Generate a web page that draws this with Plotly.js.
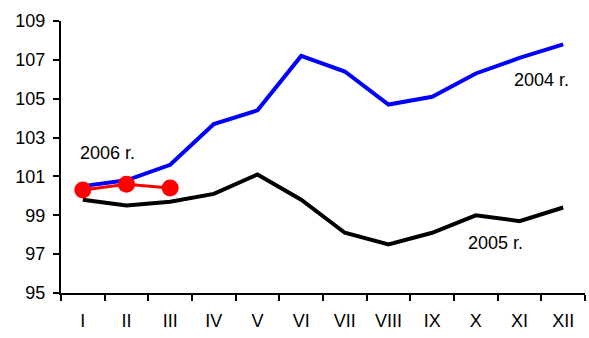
<!DOCTYPE html>
<html>
<head>
<meta charset="utf-8">
<script src="https://cdn.plot.ly/plotly-3.0.1.min.js"></script>
<style>html,body{margin:0;padding:0;background:#fff;}#chart{width:589px;height:338px;}</style>
</head>
<body>
<div id="chart"></div>
<script>
var months = ["I","II","III","IV","V","VI","VII","VIII","IX","X","XI","XII"];
var y2004 = [100.5, 100.8, 101.6, 103.7, 104.4, 107.2, 106.4, 104.7, 105.1, 106.3, 107.1, 107.8];
var y2005 = [99.8, 99.5, 99.7, 100.1, 101.1, 99.8, 98.1, 97.5, 98.1, 99.0, 98.7, 99.4];
var months2006 = ["I","II","III"];
var y2006 = [100.3, 100.6, 100.4];
var seriesNames = ["2004 r.", "2005 r.", "2006 r."];
var yTicks = [95, 97, 99, 101, 103, 105, 107, 109];

var font = {family: "Liberation Sans, Arial, sans-serif", size: 18, color: "#000"};

var traces = [
  {x: months, y: y2004, type: "scatter", mode: "lines", name: seriesNames[0],
   line: {color: "#0000FF", width: 4}},
  {x: months, y: y2005, type: "scatter", mode: "lines", name: seriesNames[1],
   line: {color: "#000000", width: 4}},
  {x: months2006, y: y2006, type: "scatter", mode: "lines+markers", name: seriesNames[2],
   line: {color: "#FF0000", width: 3}, marker: {color: "#FF0000", size: 17}}
];

var layout = {
  width: 589, height: 338,
  margin: {l: 61, r: 4, t: 21, b: 45},
  paper_bgcolor: "#fff", plot_bgcolor: "#fff",
  showlegend: false,
  font: font,
  xaxis: {
    type: "category", categoryarray: months, range: [-0.5, 11.5],
    showline: true, linecolor: "#000", linewidth: 2,
    ticks: "outside", tickson: "boundaries", ticklen: 6, tickwidth: 2, tickcolor: "#000",
    ticklabelstandoff: 10,
    showgrid: false, zeroline: false, tickfont: font
  },
  yaxis: {
    range: [95, 109], tickvals: yTicks, ticktext: yTicks.map(String),
    showline: true, linecolor: "#000", linewidth: 2,
    ticks: "outside", ticklen: 6, tickwidth: 2, tickcolor: "#000",
    ticklabelstandoff: 4,
    showgrid: false, zeroline: false, tickfont: font
  },
  annotations: [
    {x: 10.5, y: 105.96, xref: "x", yref: "y", text: seriesNames[0], showarrow: false, font: font},
    {x: 9.45, y: 97.57, xref: "x", yref: "y", text: seriesNames[1], showarrow: false, font: font},
    {x: 0.57, y: 102.2, xref: "x", yref: "y", text: seriesNames[2], showarrow: false, font: font}
  ]
};

Plotly.newPlot("chart", traces, layout, {displayModeBar: false, staticPlot: true});
</script>
</body>
</html>
